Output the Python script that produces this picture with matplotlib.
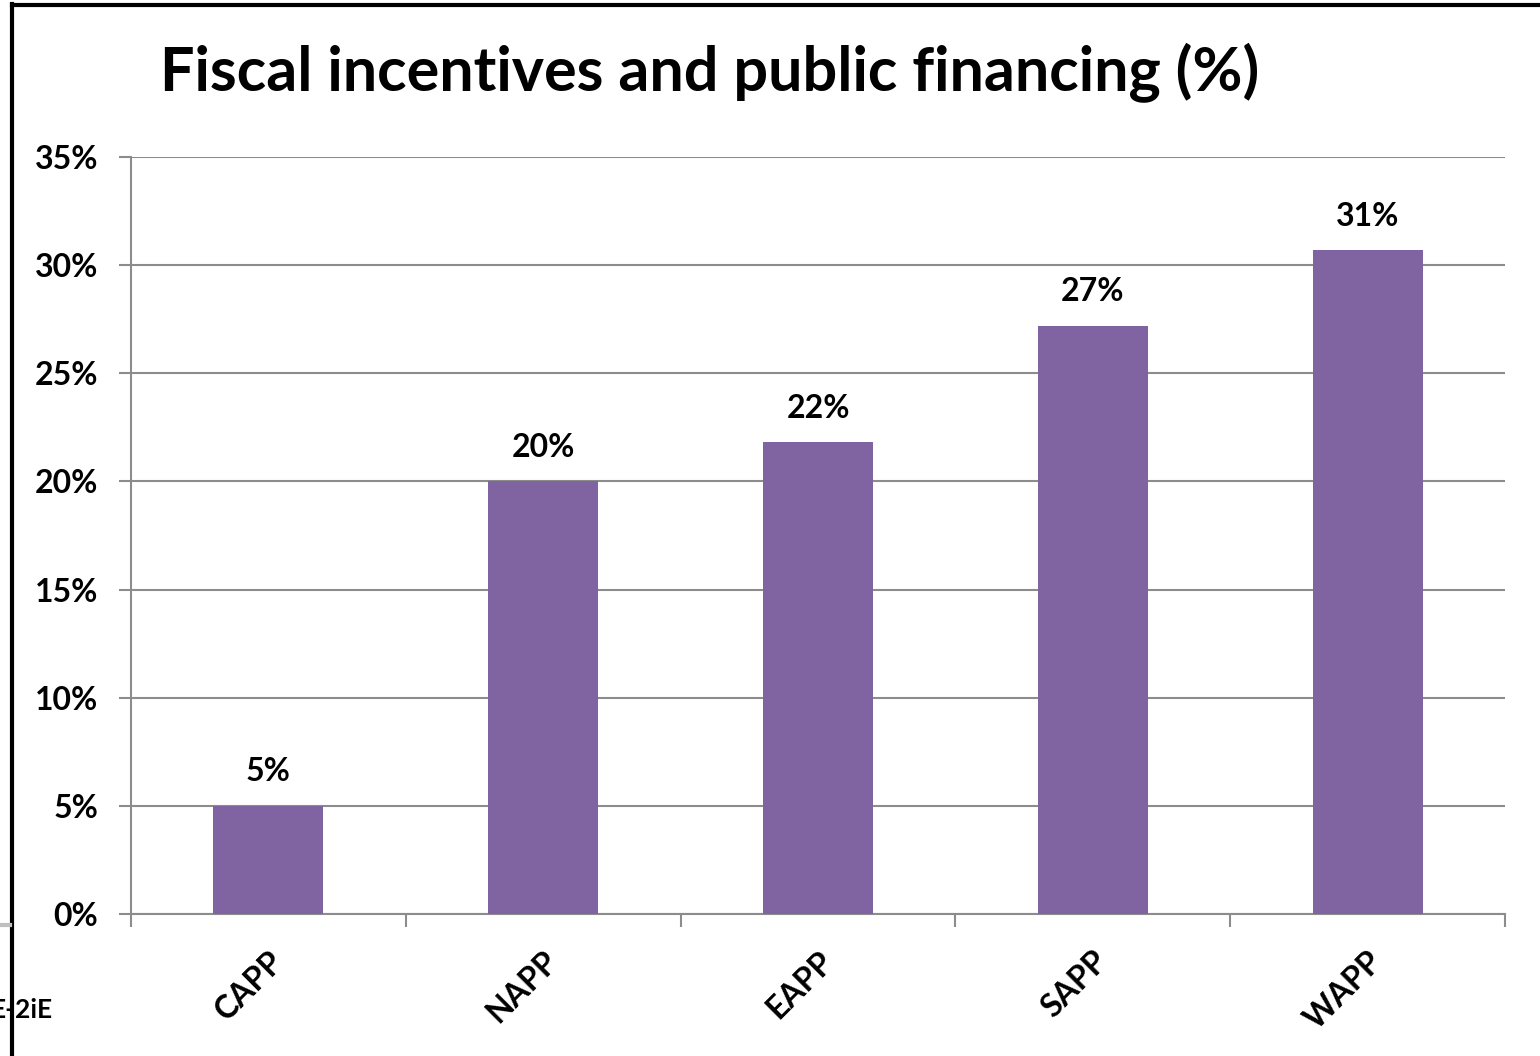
import matplotlib.pyplot as plt
from matplotlib.ticker import PercentFormatter
from matplotlib.lines import Line2D

plt.rcParams['font.family'] = ['Lato', 'DejaVu Sans']

regions = ["CAPP", "NAPP", "EAPP", "SAPP", "WAPP"]
shares = [0.05, 0.20, 0.218, 0.272, 0.307]
yticks = [0, 0.05, 0.10, 0.15, 0.20, 0.25, 0.30, 0.35]

fig = plt.figure(figsize=(15.4, 10.56), dpi=100)
ax = fig.add_axes([131/1540, 1-914/1056, (1505-131)/1540, (914-157)/1056])

grid_col = "#8c8c8c"
x = range(len(regions))
bars = ax.bar(x, shares, width=0.4, color="#8064A2", zorder=3)

ax.set_xlim(-0.5, len(regions) - 0.5)
ax.set_ylim(0, 0.35)
ax.set_yticks(yticks)
ax.yaxis.set_major_formatter(PercentFormatter(1.0, decimals=0))
ax.grid(axis="y", color=grid_col, linewidth=1.5, zorder=0)

# category boundaries get the tick marks, names sit in between
ax.set_xticks([i - 0.5 for i in range(len(regions) + 1)])
ax.set_xticklabels([])
ax.set_xticks(list(x), minor=True)
ax.set_xticklabels(regions, minor=True, rotation=45, ha="right", va="top",
                   rotation_mode="anchor", fontsize=23, fontweight="bold")
ax.tick_params(axis="x", which="minor", length=0, pad=23)
ax.tick_params(axis="x", which="major", length=9.4, width=1.5, color=grid_col)
ax.tick_params(axis="y", length=8.6, width=1.5, color=grid_col, labelsize=23, pad=15)
for lab in ax.get_yticklabels():
    lab.set_fontweight("bold")

for s in ["top", "right"]:
    ax.spines[s].set_visible(False)
for s in ["left", "bottom"]:
    ax.spines[s].set_color(grid_col)
    ax.spines[s].set_linewidth(1.5)

for b, v in zip(bars, shares):
    ax.annotate(f"{v:.0%}", (b.get_x() + b.get_width() / 2, v),
                xytext=(0, 14), textcoords="offset points",
                ha="center", va="bottom", fontsize=23, fontweight="bold")

fig.text(710/1540, 1-73/1056, "Fiscal incentives and public financing (%)",
         ha="center", va="center", fontsize=44, fontweight="bold")

# frame lines and footer
fig.add_artist(Line2D([12/1540, 12/1540], [0, 1-4/1056], color="black", lw=3))
fig.add_artist(Line2D([12/1540, 1], [1-5/1056, 1-5/1056], color="black", lw=3))
fig.add_artist(Line2D([0, 10/1540], [1-925/1056, 1-925/1056], color="#bfbfbf", lw=3))
fig.text(-9/1540, 1-1010/1056, "E-2iE", ha="left", va="center",
         fontsize=19, fontweight="bold", zorder=0)

fig.savefig("out.png", dpi=100)
